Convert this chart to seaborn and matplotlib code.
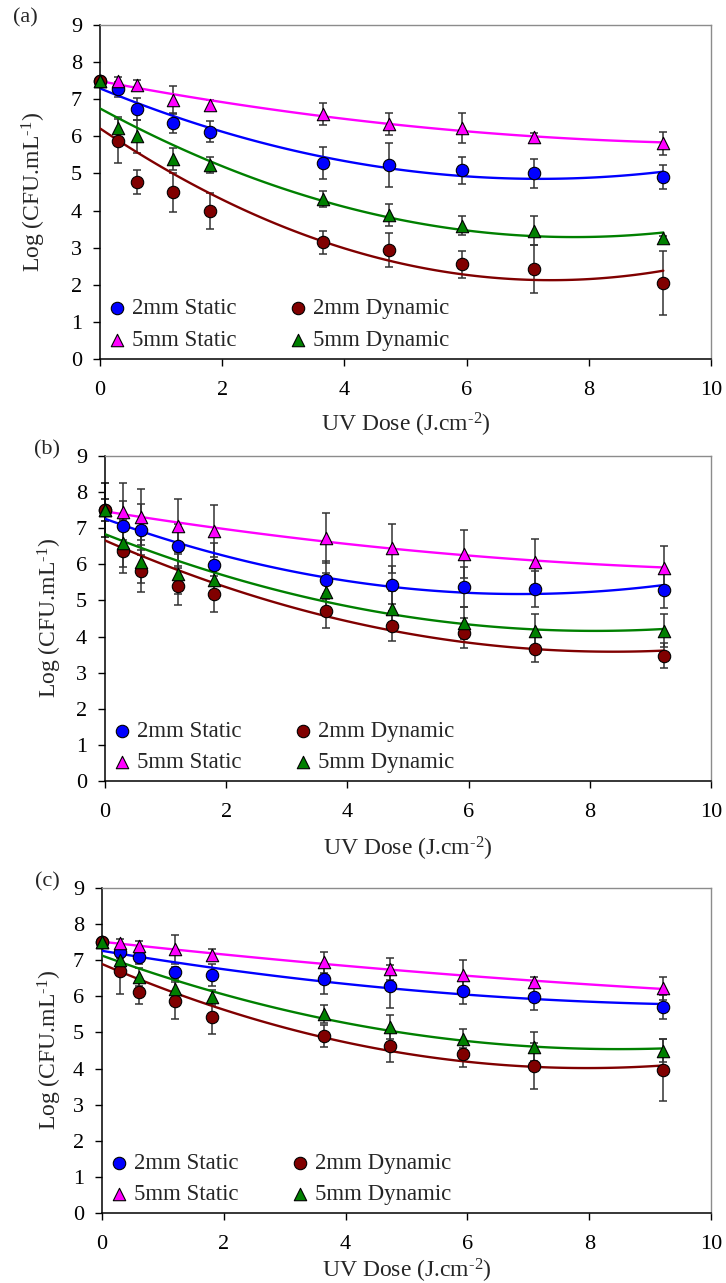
import numpy as np
import matplotlib
matplotlib.use("Agg")
import matplotlib.pyplot as plt
import seaborn as sns

# ---------------- data ----------------
dose = [0, 0.3, 0.6, 1.2, 1.8, 3.65, 4.73, 5.92, 7.1, 9.22]

labels = ["2mm Static", "2mm Dynamic", "5mm Static", "5mm Dynamic"]

# panel (a)
a_s2 = [7.5, 7.27, 6.73, 6.36, 6.12, 5.28, 5.23, 5.08, 5.00, 4.91]
a_d2 = [7.5, 5.88, 4.77, 4.49, 3.99, 3.14, 2.94, 2.55, 2.43, 2.05]
a_s5 = [7.5, 7.49, 7.39, 6.98, 6.84, 6.61, 6.33, 6.22, 5.99, 5.81]
a_d5 = [7.5, 6.22, 6.00, 5.39, 5.23, 4.31, 3.88, 3.59, 3.46, 3.26]
a_s2_err = [0.05, 0.20, 0.30, 0.28, 0.28, 0.42, 0.60, 0.37, 0.38, 0.32]
a_d2_err = [0.05, 0.60, 0.33, 0.52, 0.48, 0.31, 0.45, 0.36, 0.65, 0.86]
a_s5_err = [0.05, 0.10, 0.12, 0.37, 0.13, 0.30, 0.29, 0.40, 0.10, 0.30]
a_d5_err = [0.05, 0.30, 0.45, 0.29, 0.21, 0.22, 0.30, 0.25, 0.40, 0.05]

# panel (b)
b_s2 = [7.5, 7.06, 6.96, 6.51, 5.99, 5.57, 5.43, 5.37, 5.32, 5.29]
b_d2 = [7.5, 6.38, 5.82, 5.41, 5.17, 4.71, 4.30, 4.09, 3.66, 3.47]
b_s5 = [7.5, 7.46, 7.31, 7.07, 6.91, 6.72, 6.44, 6.29, 6.07, 5.91]
b_d5 = [7.5, 6.58, 6.07, 5.73, 5.58, 5.24, 4.75, 4.37, 4.16, 4.16]
b_s2_err = [0.74, 0.70, 0.71, 0.60, 0.60, 0.52, 0.53, 0.55, 0.50, 0.51]
b_d2_err = [0.30, 0.63, 0.58, 0.54, 0.50, 0.46, 0.42, 0.42, 0.37, 0.34]
b_s5_err = [0.74, 0.78, 0.77, 0.73, 0.72, 0.69, 0.67, 0.66, 0.63, 0.61]
b_d5_err = [0.30, 0.64, 0.60, 0.55, 0.50, 0.53, 0.50, 0.45, 0.46, 0.46]

# panel (c)
c_s2 = [7.5, 7.22, 7.10, 6.67, 6.60, 6.47, 6.28, 6.14, 5.99, 5.70]
c_d2 = [7.5, 6.69, 6.11, 5.88, 5.42, 4.91, 4.62, 4.40, 4.08, 3.96]
c_s5 = [7.5, 7.48, 7.40, 7.30, 7.15, 6.94, 6.75, 6.58, 6.39, 6.22]
c_d5 = [7.5, 7.01, 6.54, 6.20, 5.97, 5.51, 5.14, 4.83, 4.61, 4.50]
c_s2_err = [0.05, 0.15, 0.20, 0.15, 0.30, 0.40, 0.59, 0.36, 0.37, 0.33]
c_d2_err = [0.05, 0.63, 0.33, 0.51, 0.47, 0.30, 0.45, 0.37, 0.64, 0.85]
c_s5_err = [0.05, 0.10, 0.12, 0.40, 0.15, 0.30, 0.31, 0.42, 0.15, 0.31]
c_d5_err = [0.05, 0.20, 0.25, 0.25, 0.20, 0.25, 0.33, 0.27, 0.41, 0.32]

x_ticks = [0, 2, 4, 6, 8, 10]
y_ticks = [0, 1, 2, 3, 4, 5, 6, 7, 8, 9]

# ---------------- style ----------------
sns.set_theme(style="ticks")
plt.rcParams["font.family"] = ["Liberation Serif", "DejaVu Serif"]
plt.rcParams["mathtext.fontset"] = "custom"
plt.rcParams["mathtext.rm"] = "Liberation Serif"
plt.rcParams["mathtext.it"] = "Liberation Serif:italic"
plt.rcParams["mathtext.default"] = "regular"

colors = {"2mm Static": "#0000FF", "2mm Dynamic": "#800000",
          "5mm Static": "#FF00FF", "5mm Dynamic": "#008000"}
markers = {"2mm Static": "o", "2mm Dynamic": "o",
           "5mm Static": "^", "5mm Dynamic": "^"}
msize = {"o": 80, "^": 80}

W, H = 726, 1283
fig = plt.figure(figsize=(W / 100, H / 100), dpi=100)

panels = [
    dict(tag="(a)", rect=(100, 25, 711, 359), tagpos=(25, 18),
         ylab_x=-0.085, xlab_y=-0.155,
         series=[(a_s2, a_s2_err), (a_d2, a_d2_err), (a_s5, a_s5_err), (a_d5, a_d5_err)]),
    dict(tag="(b)", rect=(105, 456, 711, 781), tagpos=(47, 450),
         ylab_x=-0.068, xlab_y=-0.165,
         series=[(b_s2, b_s2_err), (b_d2, b_d2_err), (b_s5, b_s5_err), (b_d5, b_d5_err)]),
    dict(tag="(c)", rect=(102, 888, 711, 1213), tagpos=(47, 882),
         ylab_x=-0.062, xlab_y=-0.135,
         series=[(c_s2, c_s2_err), (c_d2, c_d2_err), (c_s5, c_s5_err), (c_d5, c_d5_err)]),
]

draw_order = [0, 2, 1, 3]  # blue, magenta, red, green

for p in panels:
    x0, y0, x1, y1 = p["rect"]
    ax = fig.add_axes([x0 / W, 1 - y1 / H, (x1 - x0) / W, (y1 - y0) / H])
    handles = {}
    for k in draw_order:
        lab = labels[k]
        vals, err = p["series"][k]
        c = colors[lab]
        ax.errorbar(dose, vals, yerr=err, fmt="none", ecolor="#333333",
                    elinewidth=1.1, capsize=3, capthick=1.1, zorder=2, clip_on=False)
        sns.regplot(x=np.array(dose), y=np.array(vals), order=2, ci=None, scatter=False,
                    truncate=True, ax=ax, line_kws=dict(color=c, lw=1.7, zorder=3))
        sns.scatterplot(x=dose, y=vals, marker=markers[lab], s=msize[markers[lab]],
                        color=c, edgecolor="black", linewidth=0.8, ax=ax,
                        zorder=4 + k, clip_on=False, legend=False)
        handles[lab] = ax.collections[-1]
    ax.set_xlim(0, 10)
    ax.set_ylim(0, 9)
    ax.set_xticks(x_ticks)
    ax.set_yticks(y_ticks)
    ax.tick_params(axis="both", direction="out", length=5, width=1.0,
                   colors="black", labelsize=16)
    ax.tick_params(axis="x", pad=11)
    ax.tick_params(axis="y", pad=8)
    for s in ["left", "bottom"]:
        ax.spines[s].set_color("black")
        ax.spines[s].set_linewidth(1.1)
    for s in ["top", "right"]:
        ax.spines[s].set_color("#8c8c8c")
        ax.spines[s].set_linewidth(1.0)
    ax.set_xlabel(r"UV Dose (J.cm$^{\text{-2}}$)", fontsize=17)
    ax.set_ylabel(r"Log (CFU.mL$^{\text{-1}}$)", fontsize=17)
    ax.xaxis.set_label_coords(0.5, p["xlab_y"])
    ax.yaxis.set_label_coords(p["ylab_x"], 0.5)
    order = ["2mm Static", "5mm Static", "2mm Dynamic", "5mm Dynamic"]
    ax.legend([handles[l] for l in order], order, ncol=2, frameon=False,
              loc="lower left", bbox_to_anchor=(0.013, 0.025), borderaxespad=0,
              borderpad=0, handlelength=0.8, handletextpad=0.25,
              columnspacing=2.3, labelspacing=0.45, scatterpoints=1, fontsize=16.5)
    fig.text(p["tagpos"][0] / W, 1 - p["tagpos"][1] / H, p["tag"],
             ha="center", va="center", fontsize=16)

fig.savefig("out.png", dpi=100)
